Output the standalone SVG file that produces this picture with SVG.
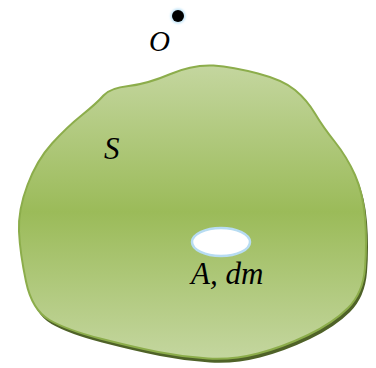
<svg xmlns="http://www.w3.org/2000/svg" width="376" height="368" viewBox="0 0 376 368">
<defs>
<linearGradient id="g" x1="0" y1="0" x2="0" y2="1">
<stop offset="0" stop-color="#c4d69f"/>
<stop offset="0.5" stop-color="#9bbb59"/>
<stop offset="1" stop-color="#c4d69f"/>
</linearGradient>
<path id="blob" d="M213.5,65.5 Q233,67 258,73.5 Q283,80 295,90 Q307,100 315,113.5 Q323,127 335,142 Q347,157 355,175 Q363,193 365,218 Q367,243 365,268 Q363,293 348,308 Q333,323 308,335 Q283,347 258,353.5 Q233,360 208,358.5 Q183,357 158,352 Q133,347 100,338.5 Q67,330 49.5,320 Q32,310 26,281.5 Q20,253 19,231.5 Q18,210 27.5,185 Q37,160 52,143.5 Q67,127 82,115 Q97,103 103.5,95.5 Q110,88 128.5,86 Q147,84 170.5,74 Q192,64.5 213.5,65.5 Z"/>
<filter id="glow" x="-1" y="-1" width="3" height="3"><feGaussianBlur stdDeviation="0.8"/></filter>
</defs>
<style>
.t{font-family:"Liberation Serif","Times New Roman",serif;font-style:italic;fill:#000}
</style>
<g id="surface">
<use href="#blob" transform="translate(2,4)" fill="#4f6228"/>
<use href="#blob" fill="url(#g)" stroke="#8cad4b" stroke-width="2" stroke-linejoin="round"/>
</g>
<g id="A">
<ellipse cx="221" cy="242" rx="29" ry="14" fill="#fff" stroke="#b7dcf2" stroke-width="2.5"/>
<text class="t" x="191" y="284" font-size="31">A, dm</text>
</g>
<g id="O">
<circle cx="178" cy="16" r="7.5" fill="#bfe3f7" filter="url(#glow)"/>
<circle cx="178" cy="16" r="6" fill="#000"/>
<text class="t" x="149" y="51" font-size="29">O</text>
</g>
<g id="S"><text class="t" x="104" y="159" font-size="31">S</text></g>
<g id="connectors"/>
</svg>
